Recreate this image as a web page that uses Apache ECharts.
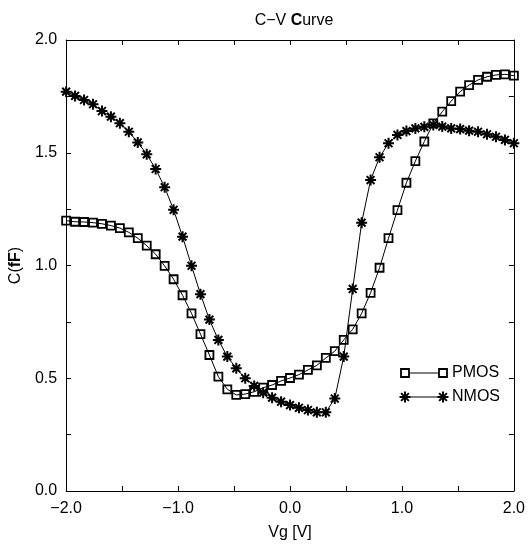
<!DOCTYPE html>
<html>
<head>
<meta charset="utf-8">
<script src="https://cdn.jsdelivr.net/npm/echarts@6/dist/echarts.min.js"></script>
<style>html,body{margin:0;padding:0;background:#fff}#c{width:528px;height:546px}</style>
</head>
<body>
<div id="c"></div>
<script>
// Gate voltages: -2.0 .. 2.0 in 0.08 V steps
const vg = [-2.00,-1.92,-1.84,-1.76,-1.68,-1.60,-1.52,-1.44,-1.36,-1.28,
            -1.20,-1.12,-1.04,-0.96,-0.88,-0.80,-0.72,-0.64,-0.56,-0.48,
            -0.40,-0.32,-0.24,-0.16,-0.08,0.00,0.08,0.16,0.24,0.32,
            0.40,0.48,0.56,0.64,0.72,0.80,0.88,0.96,1.04,1.12,
            1.20,1.28,1.36,1.44,1.52,1.60,1.68,1.76,1.84,1.92,2.00];
const pmos = [1.199,1.194,1.193,1.190,1.185,1.177,1.166,1.147,1.121,1.088,
              1.050,0.998,0.939,0.868,0.788,0.696,0.603,0.507,0.451,0.426,
              0.430,0.440,0.458,0.470,0.488,0.501,0.516,0.537,0.557,0.590,
              0.620,0.670,0.717,0.788,0.879,0.990,1.121,1.246,1.367,1.463,
              1.550,1.630,1.682,1.729,1.771,1.800,1.823,1.837,1.845,1.848,1.842];
const nmos = [1.771,1.752,1.734,1.715,1.685,1.660,1.631,1.593,1.546,1.493,
              1.428,1.347,1.247,1.128,0.999,0.873,0.760,0.670,0.596,0.544,
              0.500,0.466,0.436,0.414,0.396,0.381,0.369,0.359,0.349,0.349,
              0.410,0.596,0.896,1.190,1.379,1.480,1.542,1.579,1.596,1.608,
              1.615,1.623,1.616,1.608,1.605,1.598,1.593,1.582,1.571,1.557,1.542];
const seriesNames = ['PMOS','NMOS'];
const xLabelTicks = [-2,-1,0,1,2];
const yLabelTicks = [0,0.5,1,1.5,2];

const FONT = '"Liberation Sans", Arial, Helvetica, sans-serif';
const STAR = 'path://M6,0L6,12M0,6L12,6M1.76,1.76L10.24,10.24M1.76,10.24L10.24,1.76';
const fmt = v => (v < 0 ? '\u2212' : '') + Math.abs(v).toFixed(1);

const chart = echarts.init(document.getElementById('c'), null, {renderer:'canvas'});
const gridL = 66, gridT = 40, gridW = 451, gridH = 451;

function axisCommon(showLabels, isX){
  return {
    axisLine:{show:true, onZero:false, lineStyle:{color:'#000', width:1}},
    axisTick:{show:true, inside:true, length:5, lineStyle:{color:'#000', width:1}},
    splitLine:{show:false},
    axisLabel:{show:showLabels, color:'#000', fontFamily:FONT, fontSize:16,
      margin: isX ? 10 : 9,
      formatter: v => {
        const list = isX ? xLabelTicks : yLabelTicks;
        return list.some(t => Math.abs(t - v) < 1e-9) ? fmt(v) : '';
      }}
  };
}

function starLines(cx, cy, r){
  const d = r * 0.707;
  const segs = [[0,-r,0,r],[-r,0,r,0],[-d,-d,d,d],[-d,d,d,-d]];
  return segs.map(s => ({type:'line', shape:{x1:cx+s[0], y1:cy+s[1], x2:cx+s[2], y2:cy+s[3]},
    style:{stroke:'#000', lineWidth:2}, z:10}));
}

const option = {
  backgroundColor:'#fff',
  animation:false,
  title:{
    text:'{n|C\u2212V }{b|C}{n|urve}',
    left:289, top:8, textAlign:'center',
    textStyle:{fontWeight:'normal', fontFamily:FONT, fontSize:16, rich:{
      n:{fontFamily:FONT, fontSize:16, color:'#000', fontWeight:'normal'},
      b:{fontFamily:FONT, fontSize:16, color:'#000', fontWeight:'bold'}
    }}
  },
  grid:{left:gridL, top:gridT, width:gridW, height:gridH, containLabel:false},
  xAxis:[
    Object.assign({type:'value', min:-2, max:2, interval:0.5, position:'bottom',
      name:'Vg [V]', nameLocation:'middle', nameGap:34,
      nameTextStyle:{fontFamily:FONT, fontSize:16, color:'#000'}}, axisCommon(true, true)),
    Object.assign({type:'value', min:-2, max:2, interval:0.5, position:'top'}, axisCommon(false, true))
  ],
  yAxis:[
    Object.assign({type:'value', min:0, max:2, interval:0.25, position:'left',
      name:'{n|C(}{b|fF}{n|)}', nameLocation:'middle', nameGap:39,
      nameTextStyle:{fontWeight:'normal', rich:{
        n:{fontFamily:FONT, fontSize:16, color:'#000', fontWeight:'normal'},
        b:{fontFamily:FONT, fontSize:16, color:'#000', fontWeight:'bold'}
      }}}, axisCommon(true, false)),
    Object.assign({type:'value', min:0, max:2, interval:0.25, position:'right'}, axisCommon(false, false))
  ],
  series:[
    {
      name:seriesNames[0], type:'line', xAxisIndex:0, yAxisIndex:0,
      data: vg.map((x,i)=>[x,pmos[i]]),
      symbol:'rect', symbolSize:8, showAllSymbol:true,
      lineStyle:{color:'#000', width:1},
      itemStyle:{color:'rgba(0,0,0,0)', borderColor:'#000', borderWidth:1.8},
      z:3
    },
    {
      name:seriesNames[1], type:'line', xAxisIndex:0, yAxisIndex:0,
      data: vg.map((x,i)=>[x,nmos[i]]),
      symbol:STAR, symbolSize:11, showAllSymbol:true,
      lineStyle:{color:'#000', width:1},
      itemStyle:{color:'rgba(0,0,0,0)', borderColor:'#000', borderWidth:2},
      z:4
    }
  ],
  graphic:[
    {type:'line', shape:{x1:405, y1:373, x2:443, y2:373}, style:{stroke:'#000', lineWidth:1}},
    {type:'rect', shape:{x:401, y:369, width:8, height:8}, style:{fill:'#fff', stroke:'#000', lineWidth:1.8}},
    {type:'rect', shape:{x:439, y:369, width:8, height:8}, style:{fill:'#fff', stroke:'#000', lineWidth:1.8}},
    {type:'text', x:452, y:365, style:{text:seriesNames[0], font:'16px ' + FONT, fill:'#000'}},
    {type:'line', shape:{x1:405, y1:397, x2:443, y2:397}, style:{stroke:'#000', lineWidth:1}}
  ].concat(starLines(405, 397, 5.5), starLines(443, 397, 5.5), [
    {type:'text', x:452, y:389, style:{text:seriesNames[1], font:'16px ' + FONT, fill:'#000'}}
  ])
};
chart.setOption(option);
</script>
</body>
</html>
